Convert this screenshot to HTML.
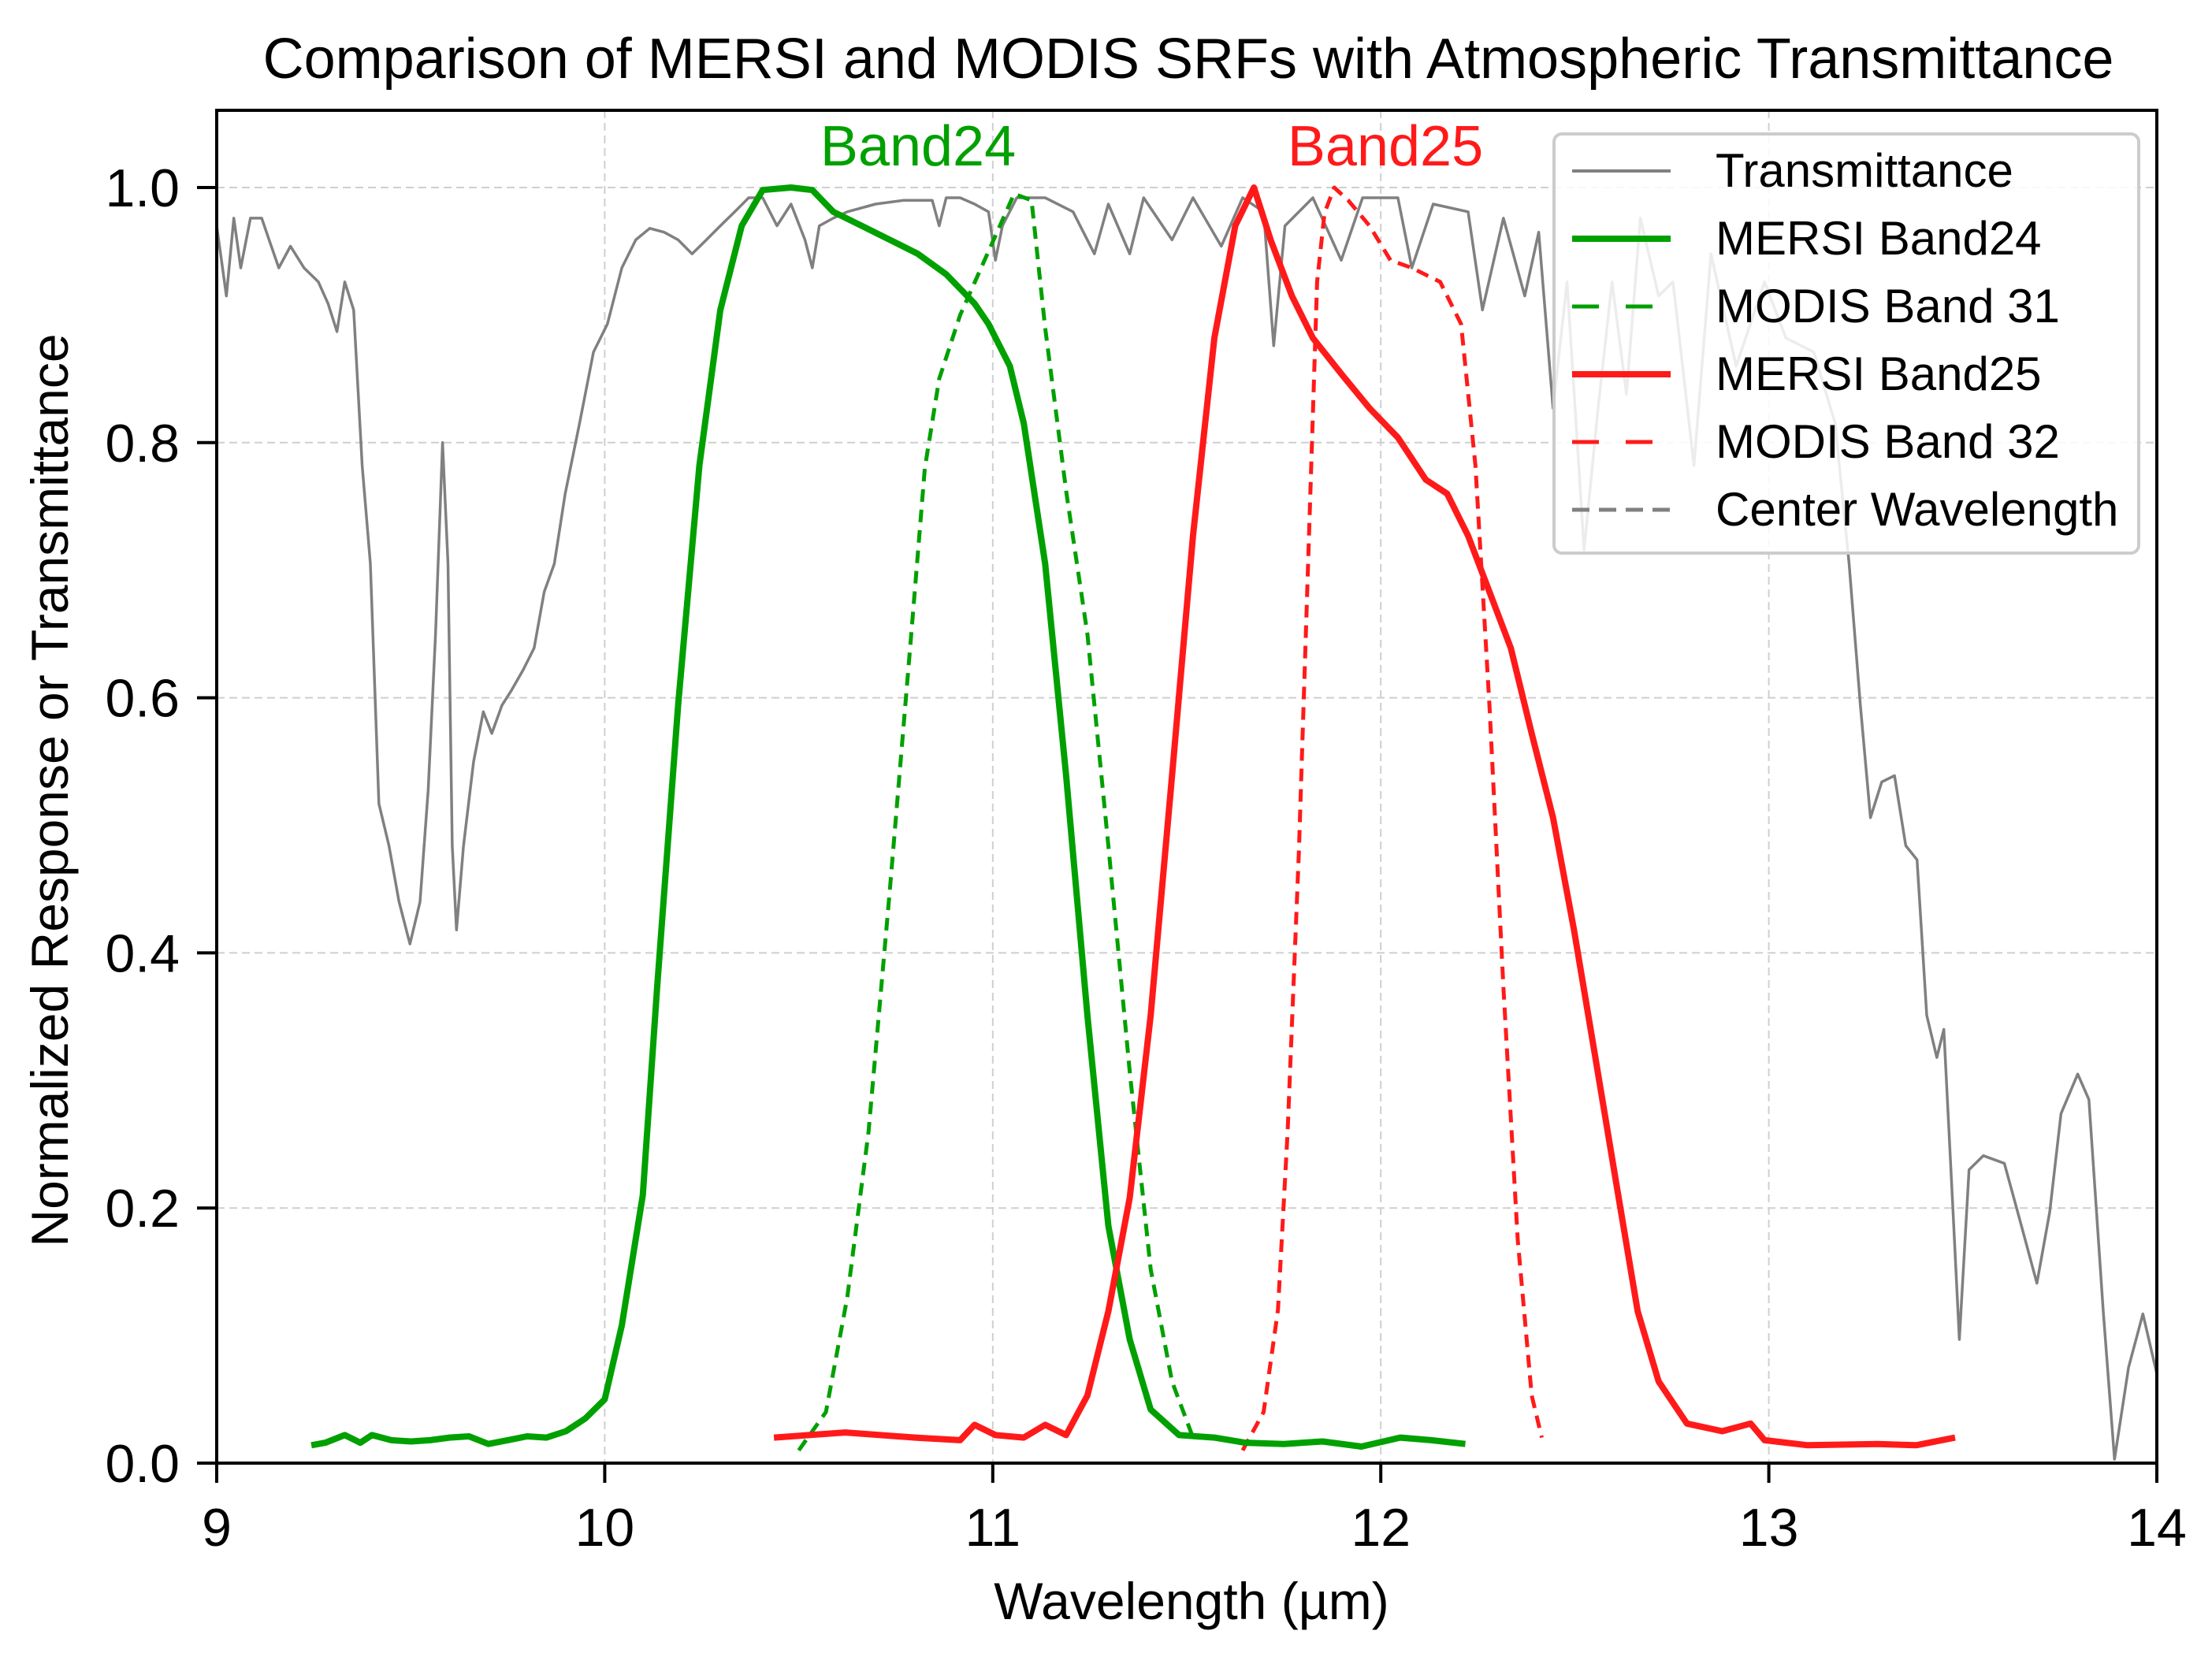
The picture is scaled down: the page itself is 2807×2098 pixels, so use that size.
<!DOCTYPE html>
<html><head><meta charset="utf-8"><style>
html,body{margin:0;padding:0;background:#fff;}
svg{display:block;font-family:"Liberation Sans",sans-serif;}
</style></head><body>
<svg id="chart" width="2807" height="2098" viewBox="0 0 2807 2098" xmlns="http://www.w3.org/2000/svg">
<rect width="2807" height="2098" fill="#fff"/>
<text x="1508" y="99" font-size="72" text-anchor="middle" fill="#000">Comparison of MERSI and MODIS SRFs with Atmospheric Transmittance</text>
<g id="grid"></g>
<g id="series"></g>
<rect x="275" y="140" width="2462" height="1717" fill="none" stroke="#000" stroke-width="4"/>
<g id="ticks"></g>
<text x="1165" y="210" font-size="72" text-anchor="middle" fill="#00a000">Band24</text>
<text x="1758" y="210" font-size="72" text-anchor="middle" fill="#ff1a1a">Band25</text>
<text x="1512" y="2055" font-size="66" text-anchor="middle" fill="#000">Wavelength (µm)</text>
<text x="0" y="0" font-size="66" text-anchor="middle" fill="#000" transform="translate(86,1003) rotate(-90)">Normalized Response or Transmittance</text>
<g>
<rect x="1972" y="170" width="742" height="532" rx="10" fill="#fff" fill-opacity="0.85" stroke="#ccc" stroke-width="4"/>
<g><line x1="1995" y1="217" x2="2120" y2="217" stroke="#808080" stroke-width="4"/><text x="2177" y="237" font-size="60">Transmittance</text></g>
<g><line x1="1995" y1="303" x2="2120" y2="303" stroke="#00a000" stroke-width="8"/><text x="2177" y="323" font-size="60">MERSI Band24</text></g>
<g><line x1="1995" y1="389" x2="2120" y2="389" stroke="#00a000" stroke-width="5" stroke-dasharray="34,34"/><text x="2177" y="409" font-size="60">MODIS Band 31</text></g>
<g><line x1="1995" y1="475" x2="2120" y2="475" stroke="#ff1a1a" stroke-width="8"/><text x="2177" y="495" font-size="60">MERSI Band25</text></g>
<g><line x1="1995" y1="561" x2="2120" y2="561" stroke="#ff1a1a" stroke-width="5" stroke-dasharray="34,34"/><text x="2177" y="581" font-size="60">MODIS Band 32</text></g>
<g><line x1="1995" y1="647" x2="2120" y2="647" stroke="#808080" stroke-width="5" stroke-dasharray="22,12"/><text x="2177" y="667" font-size="60">Center Wavelength</text></g>
</g>
</svg>
<script>
const xTicks=[9,10,11,12,13,14];
const yTicks=[0,0.2,0.4,0.6,0.8,1.0];
const yTickLabels=["0.0","0.2","0.4","0.6","0.8","1.0"];
const transWl=[9.0,9.025,9.044,9.062,9.087,9.116,9.135,9.16,9.19,9.225,9.262,9.287,9.31,9.33,9.353,9.375,9.396,9.418,9.444,9.47,9.498,9.524,9.545,9.564,9.582,9.596,9.607,9.618,9.636,9.662,9.687,9.709,9.735,9.76,9.79,9.818,9.844,9.87,9.898,9.935,9.971,10.007,10.044,10.08,10.116,10.153,10.189,10.225,10.262,10.298,10.335,10.371,10.407,10.444,10.48,10.516,10.535,10.553,10.589,10.625,10.698,10.771,10.844,10.862,10.88,10.916,10.953,10.989,11.007,11.025,11.062,11.135,11.207,11.262,11.298,11.353,11.389,11.462,11.516,11.589,11.644,11.698,11.724,11.753,11.825,11.898,11.953,12.044,12.08,12.135,12.225,12.262,12.316,12.371,12.407,12.444,12.48,12.524,12.56,12.596,12.633,12.669,12.716,12.753,12.807,12.851,12.916,12.989,13.044,13.116,13.171,13.207,13.236,13.262,13.291,13.324,13.353,13.382,13.407,13.433,13.451,13.473,13.491,13.516,13.553,13.607,13.651,13.691,13.724,13.753,13.796,13.825,13.862,13.891,13.927,13.964,14.0];
const transVal=[0.97,0.915,0.976,0.937,0.976,0.976,0.959,0.937,0.954,0.937,0.926,0.909,0.887,0.926,0.904,0.782,0.705,0.517,0.484,0.44,0.407,0.44,0.528,0.65,0.8,0.705,0.484,0.418,0.484,0.55,0.589,0.572,0.594,0.606,0.622,0.639,0.683,0.705,0.76,0.815,0.871,0.893,0.937,0.959,0.968,0.965,0.959,0.948,0.959,0.97,0.981,0.992,0.992,0.97,0.987,0.959,0.937,0.97,0.976,0.981,0.987,0.99,0.99,0.97,0.992,0.992,0.987,0.981,0.943,0.97,0.992,0.992,0.981,0.948,0.987,0.948,0.992,0.959,0.992,0.954,0.992,0.981,0.876,0.97,0.992,0.943,0.992,0.992,0.937,0.987,0.981,0.904,0.976,0.915,0.965,0.827,0.926,0.716,0.827,0.926,0.838,0.976,0.915,0.926,0.782,0.948,0.86,0.926,0.882,0.871,0.815,0.705,0.594,0.506,0.534,0.539,0.484,0.473,0.351,0.318,0.34,0.208,0.097,0.23,0.241,0.235,0.186,0.141,0.197,0.274,0.305,0.285,0.119,0.003,0.075,0.117,0.07];
const b24Wl=[9.244,9.28,9.33,9.37,9.4,9.45,9.5,9.55,9.6,9.65,9.7,9.75,9.8,9.85,9.9,9.95,10.0,10.044,10.098,10.135,10.189,10.244,10.298,10.353,10.407,10.48,10.535,10.589,10.662,10.735,10.807,10.88,10.953,10.989,11.044,11.08,11.135,11.189,11.244,11.298,11.353,11.407,11.48,11.571,11.65,11.75,11.85,11.95,12.05,12.13,12.218];
const b24Val=[0.014,0.016,0.022,0.016,0.022,0.018,0.017,0.018,0.02,0.021,0.015,0.018,0.021,0.02,0.025,0.035,0.05,0.108,0.21,0.373,0.594,0.782,0.904,0.97,0.998,1.0,0.998,0.981,0.97,0.959,0.948,0.932,0.909,0.893,0.86,0.815,0.705,0.539,0.351,0.186,0.097,0.042,0.022,0.02,0.016,0.015,0.017,0.013,0.02,0.018,0.015];
const b31Wl=[10.5,10.57,10.625,10.68,10.735,10.79,10.825,10.862,10.916,10.989,11.055,11.1,11.135,11.19,11.244,11.298,11.353,11.407,11.462,11.516];
const b31Val=[0.01,0.04,0.13,0.26,0.45,0.65,0.78,0.85,0.9,0.95,0.995,0.99,0.89,0.76,0.65,0.484,0.307,0.152,0.064,0.02];
const b25Wl=[10.436,10.62,10.8,10.916,10.953,11.007,11.08,11.135,11.189,11.244,11.298,11.353,11.407,11.462,11.516,11.571,11.625,11.673,11.716,11.771,11.825,11.898,11.971,12.044,12.116,12.171,12.225,12.28,12.335,12.389,12.444,12.498,12.553,12.607,12.662,12.716,12.789,12.88,12.953,12.989,13.1,13.28,13.38,13.48];
const b25Val=[0.02,0.024,0.02,0.018,0.03,0.022,0.02,0.03,0.022,0.053,0.119,0.208,0.351,0.539,0.727,0.882,0.97,1.0,0.959,0.915,0.882,0.854,0.827,0.804,0.771,0.76,0.727,0.683,0.639,0.572,0.506,0.418,0.318,0.219,0.119,0.064,0.031,0.025,0.031,0.018,0.014,0.015,0.014,0.02];
const b32Wl=[11.644,11.698,11.735,11.76,11.789,11.815,11.836,11.855,11.88,11.916,11.971,12.025,12.08,12.153,12.207,12.244,12.28,12.316,12.353,12.389,12.415];
const b32Val=[0.01,0.04,0.12,0.26,0.48,0.727,0.926,0.98,1.0,0.99,0.97,0.943,0.937,0.926,0.893,0.782,0.594,0.373,0.175,0.053,0.02];

const NS='http://www.w3.org/2000/svg';
function xs(w){return 275+(w-9)*492.4;}
function ys(v){return 1857-v*1619;}
const grid=document.getElementById('grid'),ticks=document.getElementById('ticks'),ser=document.getElementById('series');
function mk(tag,parent){const e=document.createElementNS(NS,tag);parent.appendChild(e);return e;}
xTicks.forEach(t=>{
  const g=mk('line',grid);
  
  
  g.setAttribute('x1',xs(t));g.setAttribute('x2',xs(t));g.setAttribute('y1',140);g.setAttribute('y2',1857);
  g.setAttribute('stroke','#cfcfcf');g.setAttribute('stroke-width','2');g.setAttribute('stroke-dasharray','10,6');
  const tk=mk('line',ticks);
  
  
  tk.setAttribute('x1',xs(t));tk.setAttribute('x2',xs(t));tk.setAttribute('y1',1857);tk.setAttribute('y2',1882);
  tk.setAttribute('stroke','#000');tk.setAttribute('stroke-width','4');
  const tx=mk('text',ticks);
  
  
  tx.setAttribute('x',xs(t));tx.setAttribute('y',1962);tx.setAttribute('font-size','68');tx.setAttribute('text-anchor','middle');
  tx.textContent=String(t);
});
yTicks.forEach((t,i)=>{
  const g=mk('line',grid);
  
  
  g.setAttribute('x1',275);g.setAttribute('x2',2737);g.setAttribute('y1',ys(t));g.setAttribute('y2',ys(t));
  g.setAttribute('stroke','#cfcfcf');g.setAttribute('stroke-width','2');g.setAttribute('stroke-dasharray','10,6');
  const tk=mk('line',ticks);
  
  
  tk.setAttribute('x1',250);tk.setAttribute('x2',275);tk.setAttribute('y1',ys(t));tk.setAttribute('y2',ys(t));
  tk.setAttribute('stroke','#000');tk.setAttribute('stroke-width','4');
  const tx=mk('text',ticks);
  
  
  tx.setAttribute('x',228);tx.setAttribute('y',ys(t)+24);tx.setAttribute('font-size','68');tx.setAttribute('text-anchor','end');
  tx.textContent=yTickLabels[i];
});
function line(wl,val,color,w,dash,name){
  const p=mk('path',ser);
  
  
  p.setAttribute('d',wl.map((x,i)=>(i?'L':'M')+xs(x).toFixed(1)+' '+ys(val[i]).toFixed(1)).join(' '));
  p.setAttribute('fill','none');p.setAttribute('stroke',color);p.setAttribute('stroke-width',w);
  p.setAttribute('stroke-linejoin','round');
  if(dash)p.setAttribute('stroke-dasharray',dash);
}
line(transWl,transVal,'#808080',3.5,null,'transmittance-line');
line(b31Wl,b31Val,'#00a000',5,'16,10','modis-band31-line');
line(b32Wl,b32Val,'#ff1a1a',5,'16,10','modis-band32-line');
line(b24Wl,b24Val,'#00a000',8,null,'mersi-band24-line');
line(b25Wl,b25Val,'#ff1a1a',8,null,'mersi-band25-line');
</script>
</body></html>
